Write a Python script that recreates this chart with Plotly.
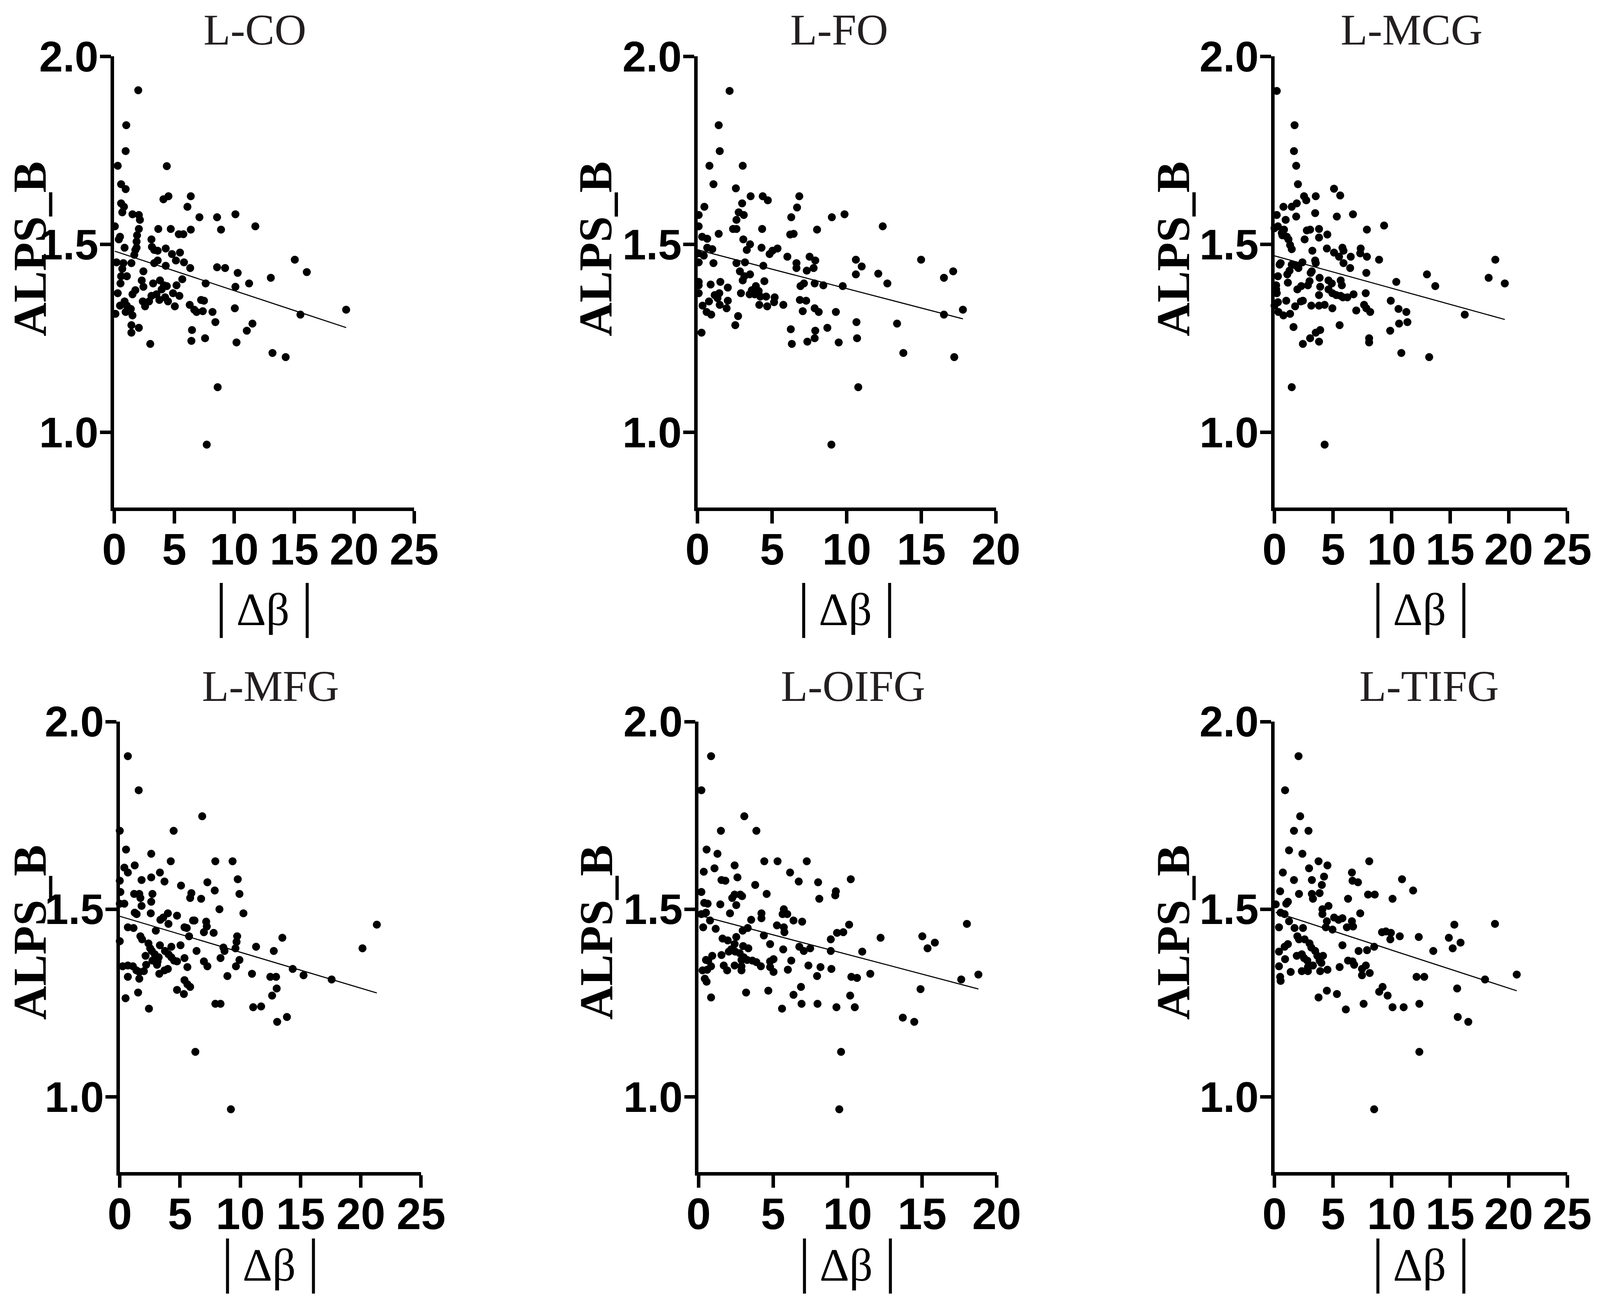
import numpy as np
import plotly.graph_objects as go

# ---------------- data ----------------
panel_titles = ["L-CO", "L-FO", "L-MCG", "L-MFG", "L-OIFG", "L-TIFG"]
x_axis_max = [25, 20, 25, 25, 20, 25]
x_tick_step = 5
y_tick_values = [1.0, 1.5, 2.0]
y_tick_labels = ["1.0", "1.5", "2.0"]
y_axis_min = 0.8
y_axis_max = 2.0
y_label = "ALPS_B"
x_label = "Δβ"

# (|Δβ|, ALPS_B) pairs
co_points = [
    (2.0, 1.91), (1.0, 1.817), (0.95, 1.748), (0.29, 1.709), (4.38, 1.708), (0.57, 1.66), (0.95, 1.647),
    (4.1, 1.62), (4.52, 1.628), (6.38, 1.628), (0.57, 1.609), (0.81, 1.6), (0.67, 1.585), (6.1, 1.6),
    (1.52, 1.58), (2.05, 1.578), (2.14, 1.565), (7.1, 1.572), (8.57, 1.572), (10.1, 1.58), (11.76, 1.548),
    (0.05, 1.548), (8.9, 1.539), (2.05, 1.541), (3.67, 1.541), (4.71, 1.541), (5.38, 1.527), (5.76, 1.527),
    (6.38, 1.539), (1.9, 1.524), (0.48, 1.52), (0.38, 1.513), (3.1, 1.513), (1.86, 1.507), (1.86, 1.491),
    (1.76, 1.485), (0.86, 1.491), (3.14, 1.493), (3.33, 1.485), (4.29, 1.489), (3.62, 1.483), (4.81, 1.474),
    (5.48, 1.478), (1.67, 1.472), (5.14, 1.457), (5.81, 1.452), (3.62, 1.457), (3.33, 1.45), (1.43, 1.45),
    (4.29, 1.443), (0.19, 1.452), (0.76, 1.45), (0.67, 1.435), (6.33, 1.437), (8.57, 1.439), (9.24, 1.437),
    (10.29, 1.424), (13.05, 1.411), (15.05, 1.459), (16.05, 1.426), (2.43, 1.428), (0.57, 1.415), (1.05, 1.415),
    (2.29, 1.404), (0.52, 1.396), (3.81, 1.404), (3.24, 1.396), (4.14, 1.391), (4.38, 1.389), (5.67, 1.407),
    (5.19, 1.391), (7.62, 1.396), (11.24, 1.396), (2.43, 1.387), (10.1, 1.387), (3.95, 1.38), (1.76, 1.378),
    (0.29, 1.37), (1.52, 1.367), (4.9, 1.37), (5.43, 1.363), (3.1, 1.363), (3.52, 1.367), (3.76, 1.352),
    (4.48, 1.348), (4.24, 1.359), (2.38, 1.348), (2.57, 1.335), (2.9, 1.348), (0.86, 1.348), (0.48, 1.337),
    (1.05, 1.337), (0.95, 1.32), (1.38, 1.328), (1.52, 1.311), (0.1, 1.315), (5.05, 1.335), (6.29, 1.339),
    (6.67, 1.326), (6.86, 1.32), (7.24, 1.352), (7.48, 1.35), (7.38, 1.322), (8.19, 1.32), (8.43, 1.293),
    (10.05, 1.33), (19.33, 1.326), (15.52, 1.313), (1.43, 1.285), (1.43, 1.265), (2.05, 1.278), (3.0, 1.235),
    (6.48, 1.272), (6.43, 1.243), (7.57, 1.25), (11.52, 1.289), (11.05, 1.27), (10.19, 1.239), (13.19, 1.211),
    (14.29, 1.2), (8.62, 1.12), (7.71, 0.967),
]

fo_points = [
    (2.15, 1.908), (1.42, 1.817), (1.49, 1.748), (0.80, 1.709), (3.03, 1.709), (1.07, 1.66), (2.57, 1.649),
    (3.56, 1.628), (4.37, 1.628), (4.71, 1.617), (6.82, 1.628), (0.46, 1.6), (2.99, 1.609), (6.67, 1.598),
    (0.08, 1.578), (2.76, 1.585), (3.1, 1.578), (6.28, 1.572), (9.0, 1.572), (9.85, 1.58), (2.61, 1.565),
    (0.08, 1.548), (2.38, 1.541), (2.61, 1.541), (4.33, 1.541), (8.01, 1.539), (12.41, 1.548), (1.42, 1.528),
    (6.21, 1.526), (6.44, 1.528), (0.31, 1.52), (0.65, 1.515), (3.07, 1.513), (3.52, 1.5), (0.65, 1.491),
    (0.99, 1.487), (3.3, 1.485), (4.29, 1.491), (5.36, 1.489), (5.02, 1.483), (4.83, 1.474), (0.04, 1.476),
    (0.42, 1.47), (6.02, 1.467), (7.51, 1.467), (0.08, 1.452), (14.98, 1.459), (7.89, 1.457), (1.07, 1.45),
    (2.61, 1.45), (3.18, 1.452), (6.63, 1.45), (6.63, 1.437), (4.41, 1.443), (10.61, 1.459), (11.0, 1.441),
    (7.78, 1.437), (7.32, 1.43), (2.84, 1.428), (3.52, 1.42), (3.14, 1.415), (12.11, 1.422), (10.61, 1.42),
    (17.13, 1.428), (16.51, 1.411), (3.03, 1.404), (0.08, 1.4), (0.08, 1.391), (1.53, 1.4), (0.88, 1.393),
    (4.48, 1.402), (7.13, 1.396), (6.9, 1.389), (7.85, 1.396), (8.43, 1.391), (12.72, 1.396), (9.73, 1.389),
    (2.03, 1.385), (3.91, 1.389), (3.64, 1.378), (3.49, 1.367), (3.83, 1.367), (4.1, 1.376), (4.21, 1.361),
    (0.08, 1.37), (2.91, 1.37), (1.15, 1.365), (1.46, 1.37), (1.34, 1.357), (4.6, 1.361), (5.17, 1.359),
    (5.13, 1.346), (0.77, 1.348), (2.03, 1.35), (1.95, 1.33), (1.49, 1.339), (6.86, 1.352), (7.28, 1.35),
    (5.75, 1.339), (0.34, 1.337), (4.67, 1.335), (4.14, 1.339), (7.85, 1.33), (8.12, 1.32), (7.05, 1.322),
    (0.61, 1.32), (0.92, 1.313), (9.27, 1.32), (16.51, 1.313), (17.78, 1.326), (2.72, 1.309), (10.65, 1.293),
    (2.53, 1.285), (13.37, 1.289), (8.7, 1.278), (6.25, 1.274), (6.32, 1.235), (7.89, 1.27), (7.85, 1.25),
    (0.27, 1.265), (10.69, 1.25), (7.36, 1.241), (9.46, 1.239), (13.79, 1.211), (17.2, 1.2), (10.77, 1.12),
    (8.97, 0.967),
]

mcg_points = [
    (0.19, 1.908), (1.71, 1.817), (1.66, 1.748), (1.85, 1.709), (2.0, 1.66), (2.52, 1.628), (2.71, 1.617),
    (3.52, 1.628), (5.08, 1.648), (5.61, 1.63), (0.76, 1.6), (1.47, 1.6), (1.9, 1.609), (0.19, 1.578),
    (0.95, 1.565), (1.85, 1.574), (3.47, 1.583), (5.32, 1.574), (6.7, 1.58), (9.36, 1.55), (0.0, 1.543),
    (0.29, 1.548), (0.81, 1.539), (3.04, 1.539), (2.76, 1.537), (3.8, 1.541), (7.89, 1.539), (0.62, 1.53),
    (0.67, 1.524), (4.51, 1.526), (1.05, 1.52), (1.19, 1.513), (2.57, 1.513), (3.8, 1.518), (1.33, 1.498),
    (1.47, 1.487), (4.47, 1.489), (3.23, 1.483), (5.8, 1.491), (5.89, 1.483), (7.36, 1.489), (7.32, 1.476),
    (5.08, 1.478), (5.51, 1.467), (6.51, 1.467), (7.89, 1.467), (8.93, 1.459), (18.86, 1.459), (3.47, 1.457),
    (3.52, 1.45), (0.52, 1.45), (0.43, 1.446), (2.38, 1.452), (1.47, 1.446), (1.85, 1.443), (5.89, 1.45),
    (6.46, 1.437), (2.04, 1.437), (1.28, 1.43), (3.18, 1.428), (3.09, 1.424), (7.84, 1.424), (13.02, 1.42),
    (0.29, 1.415), (1.09, 1.42), (18.29, 1.411), (3.85, 1.411), (4.61, 1.404), (4.89, 1.396), (5.65, 1.404),
    (5.75, 1.391), (1.14, 1.398), (2.99, 1.402), (2.85, 1.391), (10.4, 1.4), (19.67, 1.396), (0.14, 1.391),
    (0.14, 1.38), (3.9, 1.387), (13.73, 1.389), (2.28, 1.389), (1.95, 1.38), (4.61, 1.38), (4.94, 1.37),
    (5.27, 1.365), (5.65, 1.363), (5.84, 1.359), (6.22, 1.359), (7.79, 1.37), (6.75, 1.367), (3.8, 1.365),
    (0.19, 1.37), (2.42, 1.35), (2.25, 1.348), (1.0, 1.35), (0.29, 1.346), (0.0, 1.337), (9.93, 1.35),
    (3.14, 1.337), (3.8, 1.337), (4.28, 1.339), (1.76, 1.335), (4.94, 1.33), (7.65, 1.339), (7.84, 1.33),
    (8.17, 1.32), (6.98, 1.324), (10.59, 1.328), (11.26, 1.32), (11.35, 1.293), (0.33, 1.32), (0.76, 1.311),
    (1.33, 1.315), (16.25, 1.313), (10.64, 1.289), (1.62, 1.28), (5.56, 1.285), (3.9, 1.272), (3.52, 1.265),
    (9.88, 1.27), (8.08, 1.25), (8.08, 1.239), (3.04, 1.25), (2.42, 1.235), (3.8, 1.241), (10.83, 1.211),
    (13.21, 1.2), (1.47, 1.12), (4.28, 0.967),
]

mfg_points = [
    (0.67, 1.908), (1.57, 1.817), (6.84, 1.748), (0.0, 1.709), (4.47, 1.709), (0.52, 1.659), (2.61, 1.648),
    (4.23, 1.628), (7.93, 1.628), (9.36, 1.628), (1.24, 1.617), (0.38, 1.611), (0.67, 1.598), (3.33, 1.598),
    (2.61, 1.585), (1.81, 1.578), (3.71, 1.574), (7.27, 1.572), (9.79, 1.58), (0.0, 1.576), (5.08, 1.563),
    (0.05, 1.546), (7.88, 1.55), (5.94, 1.543), (5.84, 1.53), (9.93, 1.541), (2.71, 1.541), (1.19, 1.541),
    (1.62, 1.541), (1.71, 1.53), (6.75, 1.528), (2.61, 1.52), (0.38, 1.515), (0.0, 1.515), (1.81, 1.509),
    (8.27, 1.5), (10.26, 1.489), (1.24, 1.491), (1.4, 1.487), (2.57, 1.489), (3.37, 1.472), (3.61, 1.478),
    (3.99, 1.489), (4.04, 1.461), (4.75, 1.483), (6.08, 1.47), (6.2, 1.47), (7.17, 1.467), (7.22, 1.454),
    (21.33, 1.459), (0.67, 1.452), (1.14, 1.45), (5.37, 1.452), (5.56, 1.45), (6.98, 1.439), (2.99, 1.443),
    (7.79, 1.437), (5.75, 1.428), (1.71, 1.428), (1.85, 1.42), (9.74, 1.428), (9.69, 1.413), (13.49, 1.424),
    (0.0, 1.415), (2.38, 1.409), (2.52, 1.396), (3.33, 1.404), (4.28, 1.4), (5.04, 1.404), (8.6, 1.398),
    (8.69, 1.389), (9.6, 1.396), (11.31, 1.4), (20.14, 1.396), (12.78, 1.389), (3.75, 1.389), (4.04, 1.38),
    (6.37, 1.389), (2.66, 1.389), (2.9, 1.38), (2.14, 1.376), (4.28, 1.372), (4.51, 1.363), (4.75, 1.361),
    (5.37, 1.37), (8.36, 1.37), (9.93, 1.365), (6.98, 1.361), (7.27, 1.348), (3.23, 1.372), (3.14, 1.361),
    (2.71, 1.363), (3.09, 1.352), (2.19, 1.352), (2.0, 1.335), (5.61, 1.346), (9.64, 1.348), (0.24, 1.348),
    (0.67, 1.35), (1.09, 1.348), (1.38, 1.337), (1.62, 1.333), (14.35, 1.341), (3.71, 1.337), (3.99, 1.341),
    (3.28, 1.328), (10.97, 1.328), (15.25, 1.324), (12.49, 1.32), (12.97, 1.32), (8.93, 1.322), (0.67, 1.32),
    (1.62, 1.315), (17.58, 1.313), (5.37, 1.311), (5.61, 1.3), (5.84, 1.293), (13.02, 1.289), (12.64, 1.27),
    (4.75, 1.285), (5.32, 1.274), (1.52, 1.278), (0.48, 1.263), (7.93, 1.248), (8.36, 1.248), (11.07, 1.239),
    (11.73, 1.241), (2.42, 1.235), (13.87, 1.213), (13.06, 1.2), (6.27, 1.12), (9.22, 0.967),
]

oifg_points = [
    (0.84, 1.908), (0.19, 1.817), (3.07, 1.748), (3.88, 1.709), (1.5, 1.709), (0.54, 1.659), (1.27, 1.648),
    (4.41, 1.628), (5.3, 1.628), (7.26, 1.628), (2.42, 1.617), (0.35, 1.6), (1.07, 1.609), (6.14, 1.598),
    (2.61, 1.585), (1.54, 1.578), (1.8, 1.576), (6.72, 1.574), (8.02, 1.572), (10.21, 1.58), (3.8, 1.565),
    (0.19, 1.546), (4.57, 1.541), (9.21, 1.548), (9.17, 1.537), (2.42, 1.539), (2.26, 1.53), (2.8, 1.539),
    (2.92, 1.535), (8.1, 1.528), (0.38, 1.517), (0.61, 1.515), (1.46, 1.513), (2.53, 1.511), (5.72, 1.5),
    (5.64, 1.487), (5.95, 1.487), (0.19, 1.487), (0.5, 1.491), (2.11, 1.489), (4.22, 1.489), (4.22, 1.476),
    (3.53, 1.472), (0.77, 1.47), (6.37, 1.47), (6.95, 1.467), (0.31, 1.452), (5.26, 1.457), (10.1, 1.459),
    (18.0, 1.461), (5.72, 1.452), (5.76, 1.439), (1.15, 1.448), (3.3, 1.45), (2.96, 1.443), (9.71, 1.439),
    (9.29, 1.437), (4.38, 1.43), (2.53, 1.426), (15.01, 1.428), (12.21, 1.424), (8.87, 1.42), (1.61, 1.422),
    (1.96, 1.417), (15.85, 1.411), (15.36, 1.396), (4.8, 1.407), (2.42, 1.407), (2.19, 1.393), (2.03, 1.387),
    (2.99, 1.402), (3.34, 1.396), (6.76, 1.4), (7.49, 1.396), (5.68, 1.393), (7.06, 1.389), (8.87, 1.389),
    (10.98, 1.387), (2.46, 1.387), (2.76, 1.383), (1.54, 1.378), (0.92, 1.376), (3.03, 1.372), (2.88, 1.365),
    (3.26, 1.365), (3.61, 1.363), (0.5, 1.365), (0.65, 1.363), (3.88, 1.359), (5.03, 1.367), (4.8, 1.361),
    (6.22, 1.363), (1.69, 1.35), (1.92, 1.337), (2.42, 1.35), (2.88, 1.348), (2.88, 1.337), (0.84, 1.348),
    (0.58, 1.339), (4.18, 1.348), (4.8, 1.346), (5.03, 1.333), (7.37, 1.35), (8.18, 1.346), (7.95, 1.322),
    (8.91, 1.341), (5.99, 1.339), (0.27, 1.337), (11.52, 1.328), (18.77, 1.326), (10.25, 1.32), (10.63, 1.317),
    (0.42, 1.315), (0.54, 1.307), (17.62, 1.313), (6.87, 1.293), (14.89, 1.287), (3.19, 1.278), (4.68, 1.283),
    (6.37, 1.272), (10.17, 1.27), (0.84, 1.265), (6.91, 1.248), (7.98, 1.248), (9.25, 1.239), (10.48, 1.239),
    (5.6, 1.235), (13.7, 1.211), (14.47, 1.2), (9.56, 1.12), (9.44, 0.967),
]

tifg_points = [
    (2.05, 1.908), (0.9, 1.817), (2.19, 1.748), (1.66, 1.709), (2.9, 1.709), (1.24, 1.657), (2.38, 1.648),
    (3.76, 1.628), (4.52, 1.617), (8.09, 1.628), (0.71, 1.598), (2.95, 1.609), (6.61, 1.598), (6.66, 1.576),
    (7.13, 1.572), (1.66, 1.578), (3.19, 1.578), (4.23, 1.587), (4.04, 1.565), (10.89, 1.58), (11.84, 1.55),
    (0.48, 1.548), (2.09, 1.541), (3.19, 1.541), (3.28, 1.528), (3.85, 1.543), (7.99, 1.539), (8.56, 1.539),
    (6.28, 1.528), (10.08, 1.528), (0.1, 1.513), (1.14, 1.52), (1.0, 1.515), (4.09, 1.5), (4.09, 1.487),
    (4.61, 1.509), (5.09, 1.478), (5.47, 1.472), (5.8, 1.476), (7.32, 1.489), (0.52, 1.491), (0.86, 1.487),
    (4.47, 1.468), (6.61, 1.468), (6.71, 1.454), (6.18, 1.452), (1.24, 1.468), (15.36, 1.459), (18.83, 1.461),
    (0.38, 1.452), (1.71, 1.45), (2.43, 1.45), (4.38, 1.452), (4.95, 1.446), (9.18, 1.439), (9.51, 1.441),
    (9.94, 1.437), (9.89, 1.42), (10.7, 1.428), (12.32, 1.426), (14.89, 1.424), (15.89, 1.411), (15.22, 1.396),
    (1.95, 1.428), (2.09, 1.42), (2.57, 1.42), (2.99, 1.409), (3.14, 1.398), (1.14, 1.407), (0.86, 1.4),
    (5.8, 1.404), (7.18, 1.389), (8.51, 1.4), (7.9, 1.391), (13.56, 1.389), (0.38, 1.387), (3.47, 1.389),
    (3.66, 1.376), (4.14, 1.376), (2.33, 1.38), (2.52, 1.37), (2.8, 1.363), (1.9, 1.376), (0.9, 1.367),
    (3.85, 1.363), (4.0, 1.357), (3.28, 1.35), (2.85, 1.346), (6.28, 1.363), (6.66, 1.361), (6.8, 1.352),
    (5.56, 1.346), (7.47, 1.341), (7.8, 1.35), (8.13, 1.33), (7.47, 1.324), (0.38, 1.348), (1.38, 1.333),
    (2.33, 1.335), (2.85, 1.335), (3.9, 1.335), (4.52, 1.339), (0.48, 1.32), (0.52, 1.309), (12.13, 1.32),
    (12.79, 1.32), (20.69, 1.326), (17.98, 1.313), (9.23, 1.293), (8.94, 1.28), (9.66, 1.27), (15.6, 1.289),
    (4.47, 1.283), (5.33, 1.274), (3.76, 1.265), (7.61, 1.248), (12.37, 1.248), (10.08, 1.239), (11.03, 1.239),
    (6.09, 1.233), (15.65, 1.213), (16.55, 1.2), (12.37, 1.12), (8.51, 0.967),
]

panel_points = [co_points, fo_points, mcg_points, mfg_points, oifg_points, tifg_points]

# ---------------- layout geometry (reference pixels, 4618 x 3330) ----------------
W, H = 4618, 3330
FIG_W, FIG_H = 4080, 3314          # size that fits the browser viewport
FX, FY = FIG_W / W, FIG_H / H
F = 0.94                           # scale for text sizes
plot_x_px = [(322, 1191), (2012, 2877), (3684, 4532), (338, 1211), (2015, 2879), (3684, 4532)]
plot_y_px = [(137, 1297)] * 3 + [(1848, 3006)] * 3
title_px = [(730, 68), (2423, 68), (4081, 68), (775, 1756), (2463, 1756), (4132, 1756)]
ylabel_px = [(78, 632), (1717, 632), (3391, 632), (78, 2390), (1719, 2390), (3391, 2390)]
xlabel_offset = [250, 250, 250, 228, 228, 228]


def px_x(v):
    return v / W


def px_y(v):
    return 1 - v / H


LW = 8.5
y_tick_font = dict(family="Liberation Sans", size=116 * F, color="black", weight="bold")
x_tick_font = dict(family="Liberation Sans", size=120 * F, color="black", weight="bold")

fig = go.Figure()
layout = dict(
    template="none",
    width=FIG_W, height=FIG_H,
    margin=dict(l=0, r=0, t=0, b=0, pad=0),
    paper_bgcolor="white", plot_bgcolor="white",
    showlegend=False,
    annotations=[],
)

for i, pts in enumerate(panel_points):
    k = "" if i == 0 else str(i + 1)
    xs = np.array([p[0] for p in pts])
    ys = np.array([p[1] for p in pts])
    fig.add_trace(go.Scatter(
        x=xs, y=ys, mode="markers", xaxis="x" + k, yaxis="y" + k,
        marker=dict(size=20.5, color="black", line=dict(width=0)),
        cliponaxis=False, hoverinfo="skip",
    ))
    slope, intercept = np.polyfit(xs, ys, 1)
    lx = np.array([xs.min(), xs.max()])
    fig.add_trace(go.Scatter(
        x=lx, y=intercept + slope * lx, mode="lines", xaxis="x" + k, yaxis="y" + k,
        line=dict(color="black", width=2.8), hoverinfo="skip",
    ))

    x0, x1 = plot_x_px[i]
    yt, yb = plot_y_px[i]
    common = dict(
        showline=True, linewidth=LW, linecolor="black", ticks="outside",
        tickwidth=LW, tickcolor="black", showgrid=False, zeroline=False, automargin=False,
        fixedrange=True, ticklabeloverflow="allow",
    )
    layout["xaxis" + k] = dict(
        domain=[px_x(x0), px_x(x1)], anchor="y" + k,
        range=[0, x_axis_max[i]], tickvals=list(range(0, x_axis_max[i] + 1, x_tick_step)),
        tickfont=x_tick_font, ticklen=round(32 * FY), ticklabelstandoff=-30, **common,
    )
    layout["yaxis" + k] = dict(
        domain=[px_y(yb), px_y(yt)], anchor="x" + k,
        range=[y_axis_min, y_axis_max], tickvals=y_tick_values, ticktext=y_tick_labels,
        tickfont=y_tick_font, ticklen=round(32 * FX), ticklabelstandoff=-18, **common,
    )

    tx, ty = title_px[i]
    layout["annotations"].append(dict(
        text=panel_titles[i], x=px_x(tx), y=px_y(ty), xref="paper", yref="paper",
        xanchor="center", yanchor="middle", showarrow=False,
        font=dict(family="Liberation Serif", size=120 * F, color="#231f20"),
    ))
    lx_, ly_ = ylabel_px[i]
    layout["annotations"].append(dict(
        text=y_label, x=px_x(lx_), y=px_y(ly_), xref="paper", yref="paper",
        xanchor="center", yanchor="middle", showarrow=False, textangle=-90,
        font=dict(family="Liberation Serif", size=128 * F, color="black", weight="bold"),
    ))
    bar = '<span style="font-size:%dpx">|</span>' % round(154)
    layout["annotations"].append(dict(
        text=bar + " " + x_label + " " + bar,
        x=px_x((x0 + x1) / 2), y=px_y(yb + xlabel_offset[i]), xref="paper", yref="paper",
        xanchor="center", yanchor="middle", showarrow=False,
        font=dict(family="Liberation Serif", size=126 * F, color="black"),
    ))

fig.update_layout(**layout)
fig.write_html("out.html")
